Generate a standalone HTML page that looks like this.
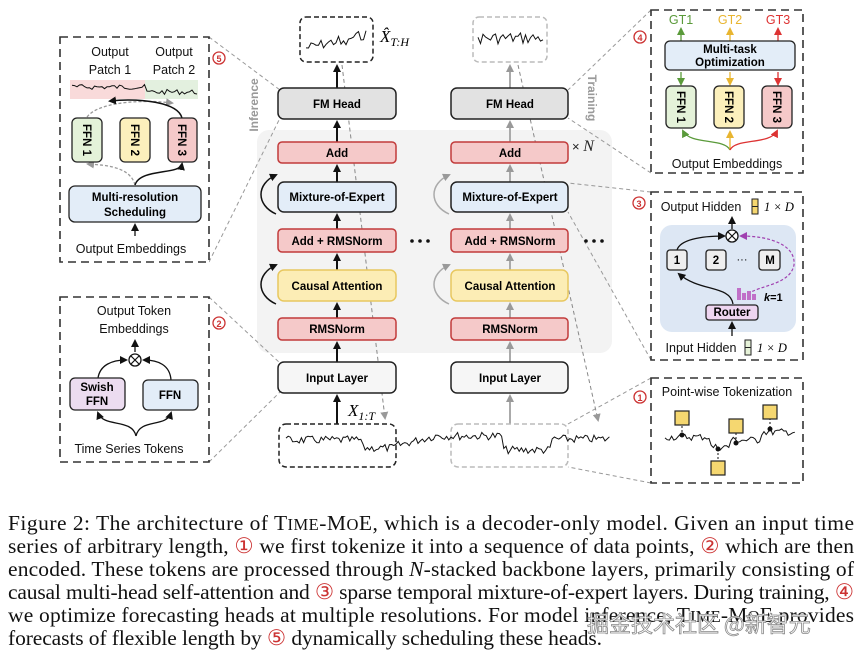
<!DOCTYPE html>
<html><head><meta charset="utf-8"><style>
html,body{margin:0;padding:0;background:#fff;}
svg{display:block;}
.t{font-family:"Liberation Sans","DejaVu Sans",sans-serif;}
.b{font-family:"Liberation Sans","DejaVu Sans",sans-serif;font-weight:bold;font-size:11.5px;text-anchor:middle;}
.n{font-family:"Liberation Sans",sans-serif;font-size:12.5px;text-anchor:middle;fill:#111;}
.m{font-family:"Liberation Serif",serif;font-style:italic;}
</style></head><body>
<svg width="865" height="657" viewBox="0 0 865 657" xmlns="http://www.w3.org/2000/svg">
<defs>
<marker id="ak" markerWidth="8" markerHeight="8" refX="6" refY="4" orient="auto" markerUnits="userSpaceOnUse"><path d="M0,0 L8,4 L0,8 z" fill="#111"/></marker>
<marker id="ag" markerWidth="8" markerHeight="8" refX="6" refY="4" orient="auto" markerUnits="userSpaceOnUse"><path d="M0,0 L8,4 L0,8 z" fill="#999"/></marker>
<marker id="agn" markerWidth="8" markerHeight="8" refX="6" refY="4" orient="auto" markerUnits="userSpaceOnUse"><path d="M0,0 L8,4 L0,8 z" fill="#5a9a3a"/></marker>
<marker id="ay" markerWidth="8" markerHeight="8" refX="6" refY="4" orient="auto" markerUnits="userSpaceOnUse"><path d="M0,0 L8,4 L0,8 z" fill="#e8b530"/></marker>
<marker id="ar" markerWidth="8" markerHeight="8" refX="6" refY="4" orient="auto" markerUnits="userSpaceOnUse"><path d="M0,0 L8,4 L0,8 z" fill="#d33"/></marker>
<marker id="ap" markerWidth="8" markerHeight="8" refX="6" refY="4" orient="auto" markerUnits="userSpaceOnUse"><path d="M0,0 L8,4 L0,8 z" fill="#a040b0"/></marker>
</defs>

<rect x="257" y="130" width="355" height="223" rx="12" fill="#f3f3f3"/>

<g stroke="#999" stroke-width="1" stroke-dasharray="4,3" fill="none">
<line x1="209" y1="37" x2="280" y2="90"/>
<line x1="209" y1="262" x2="280" y2="118"/>
<line x1="209" y1="297" x2="280" y2="363"/>
<line x1="209" y1="462" x2="280" y2="392"/>
<line x1="651" y1="10" x2="568" y2="90"/>
<line x1="651" y1="173" x2="568" y2="118"/>
<line x1="651" y1="192" x2="568" y2="183"/>
<line x1="651" y1="360" x2="568" y2="212"/>
<line x1="651" y1="378" x2="568" y2="424"/>
<line x1="651" y1="483" x2="568" y2="467"/>
<line x1="342" y1="65" x2="385" y2="418" stroke="#888" marker-end="url(#ag)"/>
<line x1="518" y1="65" x2="598" y2="420" stroke="#888" marker-end="url(#ag)"/>
</g>

<!-- Column 1 -->
<rect x="300" y="17" width="73" height="45" rx="6" fill="#fff" stroke="#222" stroke-width="1.5" stroke-dasharray="5,3"/>
<path id="w1" fill="none" stroke="#111" stroke-width="1"/>
<text x="380" y="42" class="m" font-size="17">X̂<tspan font-size="12" dy="4">T:H</tspan></text>
<g stroke="#111" stroke-width="2" marker-end="url(#ak)">
<line x1="337" y1="88" x2="337" y2="66"/>
<line x1="337" y1="142" x2="337" y2="122"/>
<line x1="337" y1="182" x2="337" y2="166"/>
<line x1="337" y1="229" x2="337" y2="215"/>
<line x1="337" y1="270" x2="337" y2="255"/>
<line x1="337" y1="318" x2="337" y2="304"/>
<line x1="337" y1="362" x2="337" y2="343"/>
<line x1="337" y1="424" x2="337" y2="396"/>
</g>
<path d="M276,214 C256,205 256,184 276,175" fill="none" stroke="#111" stroke-width="1.5" marker-end="url(#ak)"/>
<path d="M276,304 C256,295 256,274 276,265" fill="none" stroke="#111" stroke-width="1.5" marker-end="url(#ak)"/>
<rect x="278" y="88" width="118" height="31" rx="6" fill="#e2e2e2" stroke="#222" stroke-width="1.5"/>
<text x="337" y="108" class="b">FM Head</text>
<rect x="278" y="142" width="118" height="21" rx="4" fill="#f5c9c9" stroke="#c23b3b" stroke-width="1.5"/>
<text x="337" y="157" class="b">Add</text>
<rect x="278" y="182" width="118" height="30" rx="6" fill="#e3edf8" stroke="#222" stroke-width="1.5"/>
<text x="337" y="201" class="b">Mixture-of-Expert</text>
<rect x="278" y="229" width="118" height="23" rx="4" fill="#f5c9c9" stroke="#c23b3b" stroke-width="1.5"/>
<text x="337" y="245" class="b">Add + RMSNorm</text>
<rect x="278" y="270" width="118" height="31" rx="6" fill="#fcedb5" stroke="#e8c860" stroke-width="1.5"/>
<text x="337" y="290" class="b">Causal Attention</text>
<rect x="278" y="318" width="118" height="22" rx="4" fill="#f5c9c9" stroke="#c23b3b" stroke-width="1.5"/>
<text x="337" y="333" class="b">RMSNorm</text>
<rect x="278" y="362" width="118" height="31" rx="6" fill="#f6f6f6" stroke="#222" stroke-width="1.5"/>
<text x="337" y="382" class="b">Input Layer</text>
<text x="348" y="416" class="m" font-size="17">X<tspan font-size="12" dy="4">1:T</tspan></text>
<rect x="279" y="424" width="117" height="43" rx="7" fill="none" stroke="#222" stroke-width="1.5" stroke-dasharray="5,3"/>

<text transform="translate(258,105) rotate(-90)" class="t" font-size="12" font-weight="bold" fill="#999" text-anchor="middle">Inference</text>
<text transform="translate(588,98) rotate(90)" class="t" font-size="12" font-weight="bold" fill="#999" text-anchor="middle">Training</text>

<!-- Column 2 -->
<rect x="473" y="17" width="74" height="45" rx="6" fill="#fff" stroke="#bbb" stroke-width="1.5" stroke-dasharray="5,3"/>
<path id="w2" fill="none" stroke="#111" stroke-width="1"/>
<g stroke="#aaa" stroke-width="2" marker-end="url(#ag)">
<line x1="510" y1="88" x2="510" y2="66"/>
<line x1="510" y1="142" x2="510" y2="122"/>
<line x1="510" y1="182" x2="510" y2="166"/>
<line x1="510" y1="229" x2="510" y2="215"/>
<line x1="510" y1="270" x2="510" y2="255"/>
<line x1="510" y1="318" x2="510" y2="304"/>
<line x1="510" y1="362" x2="510" y2="343"/>
<line x1="510" y1="424" x2="510" y2="396"/>
</g>
<path d="M449,214 C429,205 429,184 449,175" fill="none" stroke="#aaa" stroke-width="1.5" marker-end="url(#ag)"/>
<path d="M449,304 C429,295 429,274 449,265" fill="none" stroke="#aaa" stroke-width="1.5" marker-end="url(#ag)"/>
<rect x="451" y="88" width="117" height="31" rx="6" fill="#e2e2e2" stroke="#222" stroke-width="1.5"/>
<text x="510" y="108" class="b">FM Head</text>
<rect x="451" y="142" width="117" height="21" rx="4" fill="#f5c9c9" stroke="#c23b3b" stroke-width="1.5"/>
<text x="510" y="157" class="b">Add</text>
<rect x="451" y="182" width="117" height="30" rx="6" fill="#e3edf8" stroke="#222" stroke-width="1.5"/>
<text x="510" y="201" class="b">Mixture-of-Expert</text>
<rect x="451" y="229" width="117" height="23" rx="4" fill="#f5c9c9" stroke="#c23b3b" stroke-width="1.5"/>
<text x="510" y="245" class="b">Add + RMSNorm</text>
<rect x="451" y="270" width="117" height="31" rx="6" fill="#fcedb5" stroke="#e8c860" stroke-width="1.5"/>
<text x="510" y="290" class="b">Causal Attention</text>
<rect x="451" y="318" width="117" height="22" rx="4" fill="#f5c9c9" stroke="#c23b3b" stroke-width="1.5"/>
<text x="510" y="333" class="b">RMSNorm</text>
<rect x="451" y="362" width="117" height="31" rx="6" fill="#f6f6f6" stroke="#222" stroke-width="1.5"/>
<text x="510" y="382" class="b">Input Layer</text>
<rect x="451" y="424" width="117" height="43" rx="7" fill="none" stroke="#bbb" stroke-width="1.5" stroke-dasharray="5,3"/>
<text x="572" y="151" class="t" font-size="13" fill="#222">× <tspan class="m" font-size="16">N</tspan></text>
<g fill="#111"><circle cx="412" cy="241" r="1.8"/><circle cx="420" cy="241" r="1.8"/><circle cx="428" cy="241" r="1.8"/>
<circle cx="586" cy="241" r="1.8"/><circle cx="594" cy="241" r="1.8"/><circle cx="602" cy="241" r="1.8"/></g>

<path id="wl" fill="none" stroke="#111" stroke-width="1"/>

<!-- Panel 5 -->
<rect x="60" y="37" width="149" height="225" fill="#fff" stroke="#333" stroke-width="1.6" stroke-dasharray="8,5"/>
<circle cx="219" cy="58" r="6" fill="#fff" stroke="#c33" stroke-width="1.3"/><text x="219" y="62" font-size="9" font-weight="bold" fill="#c33" text-anchor="middle" class="t">5</text>
<text x="110" y="56" class="n">Output</text><text x="110" y="74" class="n">Patch 1</text>
<text x="174" y="56" class="n">Output</text><text x="174" y="74" class="n">Patch 2</text>
<rect x="70" y="80" width="75" height="19" fill="#f9dada"/>
<rect x="145" y="80" width="53" height="19" fill="#e3f0df"/>
<path id="w5" fill="none" stroke="#111" stroke-width="1"/>
<path d="M87,117 C100,100 150,100 172,103" fill="none" stroke="#999" stroke-width="1.3" stroke-dasharray="3,2" marker-end="url(#ag)"/>
<path d="M182,118 C178,102 140,98 110,101" fill="none" stroke="#111" stroke-width="1.5" marker-end="url(#ak)"/>
<path d="M135,185 C130,165 100,165 88,164" fill="none" stroke="#999" stroke-width="1.3" stroke-dasharray="3,2" marker-end="url(#ag)"/>
<path d="M135,185 C140,168 180,175 182,164" fill="none" stroke="#111" stroke-width="1.5" marker-end="url(#ak)"/>
<rect x="72" y="118" width="30" height="44" rx="5" fill="#e4f2d9" stroke="#222" stroke-width="1.3"/>
<rect x="120" y="118" width="30" height="44" rx="5" fill="#fcf0bc" stroke="#222" stroke-width="1.3"/>
<rect x="168" y="118" width="29" height="44" rx="5" fill="#f5c9c9" stroke="#222" stroke-width="1.3"/>
<text transform="translate(83,140) rotate(90)" class="b">FFN 1</text>
<text transform="translate(131,140) rotate(90)" class="b">FFN 2</text>
<text transform="translate(178,140) rotate(90)" class="b">FFN 3</text>
<rect x="69" y="186" width="132" height="36" rx="6" fill="#e3edf8" stroke="#222" stroke-width="1.3"/>
<text x="135" y="201" class="b">Multi-resolution</text><text x="135" y="216" class="b">Scheduling</text>
<line x1="135" y1="236" x2="135" y2="225" stroke="#111" stroke-width="1.3" marker-end="url(#ak)"/>
<text x="131" y="253" class="n">Output Embeddings</text>

<!-- Panel 2 -->
<rect x="60" y="297" width="149" height="165" fill="#fff" stroke="#333" stroke-width="1.6" stroke-dasharray="8,5"/>
<circle cx="219" cy="323" r="6" fill="#fff" stroke="#c33" stroke-width="1.3"/><text x="219" y="327" font-size="9" font-weight="bold" fill="#c33" text-anchor="middle" class="t">2</text>
<text x="134" y="315" class="n">Output Token</text><text x="134" y="333" class="n">Embeddings</text>
<line x1="135" y1="352" x2="135" y2="341" stroke="#111" stroke-width="1.3" marker-end="url(#ak)"/>
<circle cx="135" cy="360" r="6" fill="#fff" stroke="#111" stroke-width="1.3"/>
<path d="M131,356 L139,364 M139,356 L131,364" stroke="#111" stroke-width="1.2"/>
<path d="M98,378 C100,365 112,360 126,360" fill="none" stroke="#111" stroke-width="1.3" marker-end="url(#ak)"/>
<path d="M171,380 C170,365 158,360 144,360" fill="none" stroke="#111" stroke-width="1.3" marker-end="url(#ak)"/>
<path d="M136,436 C132,418 104,428 98,413" fill="none" stroke="#111" stroke-width="1.3" marker-end="url(#ak)"/>
<path d="M136,436 C140,418 166,428 171,413" fill="none" stroke="#111" stroke-width="1.3" marker-end="url(#ak)"/>
<rect x="70" y="378" width="55" height="32" rx="5" fill="#ecdcf0" stroke="#222" stroke-width="1.3"/>
<text x="97" y="391" class="b">Swish</text><text x="97" y="405" class="b">FFN</text>
<rect x="143" y="380" width="55" height="30" rx="5" fill="#e3edf8" stroke="#222" stroke-width="1.3"/>
<text x="170" y="399" class="b">FFN</text>
<text x="129" y="453" class="n">Time Series Tokens</text>

<!-- Panel 4 -->
<rect x="651" y="10" width="152" height="163" fill="#fff" stroke="#333" stroke-width="1.6" stroke-dasharray="8,5"/>
<circle cx="640" cy="37" r="6" fill="#fff" stroke="#c33" stroke-width="1.3"/><text x="640" y="41" font-size="9" font-weight="bold" fill="#c33" text-anchor="middle" class="t">4</text>
<text x="681" y="24" class="n" style="fill:#5a9a3a">GT1</text>
<text x="730" y="24" class="n" style="fill:#e8b530">GT2</text>
<text x="778" y="24" class="n" style="fill:#d33">GT3</text>
<line x1="681" y1="41" x2="681" y2="29" stroke="#5a9a3a" stroke-width="1.3" marker-end="url(#agn)"/>
<line x1="730" y1="41" x2="730" y2="29" stroke="#e8b530" stroke-width="1.3" marker-end="url(#ay)"/>
<line x1="778" y1="41" x2="778" y2="29" stroke="#d33" stroke-width="1.3" marker-end="url(#ar)"/>
<rect x="665" y="41" width="130" height="29" rx="5" fill="#e3edf8" stroke="#222" stroke-width="1.3"/>
<text x="730" y="53" class="b">Multi-task</text><text x="730" y="66" class="b">Optimization</text>
<line x1="681" y1="72" x2="681" y2="84" stroke="#5a9a3a" stroke-width="1.3" marker-end="url(#agn)"/>
<line x1="730" y1="72" x2="730" y2="84" stroke="#e8b530" stroke-width="1.3" marker-end="url(#ay)"/>
<line x1="778" y1="72" x2="778" y2="84" stroke="#d33" stroke-width="1.3" marker-end="url(#ar)"/>
<rect x="666" y="86" width="30" height="42" rx="5" fill="#e4f2d9" stroke="#222" stroke-width="1.3"/>
<rect x="714" y="86" width="30" height="42" rx="5" fill="#fcf0bc" stroke="#222" stroke-width="1.3"/>
<rect x="762" y="86" width="30" height="42" rx="5" fill="#f5c9c9" stroke="#222" stroke-width="1.3"/>
<text transform="translate(677,107) rotate(90)" class="b">FFN 1</text>
<text transform="translate(725,107) rotate(90)" class="b">FFN 2</text>
<text transform="translate(773,107) rotate(90)" class="b">FFN 3</text>
<path d="M730,150 C725,138 690,145 683,131" fill="none" stroke="#5a9a3a" stroke-width="1.3" marker-end="url(#agn)"/>
<line x1="730" y1="150" x2="730" y2="132" stroke="#e8b530" stroke-width="1.3" marker-end="url(#ay)"/>
<path d="M730,150 C735,138 770,145 777,131" fill="none" stroke="#d33" stroke-width="1.3" marker-end="url(#ar)"/>
<text x="727" y="168" class="n">Output Embeddings</text>

<!-- Panel 3 -->
<rect x="651" y="192" width="152" height="168" fill="#fff" stroke="#333" stroke-width="1.6" stroke-dasharray="8,5"/>
<circle cx="639" cy="203" r="6" fill="#fff" stroke="#c33" stroke-width="1.3"/><text x="639" y="207" font-size="9" font-weight="bold" fill="#c33" text-anchor="middle" class="t">3</text>
<text x="701" y="211" class="n">Output Hidden</text>
<rect x="752" y="199" width="6" height="15" fill="#f5d770" stroke="#222" stroke-width="1"/><line x1="752" y1="206.5" x2="758" y2="206.5" stroke="#222"/>
<text x="764" y="211" class="m" font-size="12.5">1 × D</text>
<rect x="660" y="225" width="136" height="107" rx="12" fill="#dde7f4"/>
<line x1="732" y1="229" x2="732" y2="218" stroke="#111" stroke-width="1.3" marker-end="url(#ak)"/>
<circle cx="732" cy="236" r="6" fill="#fff" stroke="#111" stroke-width="1.3"/>
<path d="M728,232 L736,240 M736,232 L728,240" stroke="#111" stroke-width="1.2"/>
<path d="M677,250 C680,240 700,236 724,236" fill="none" stroke="#111" stroke-width="1.3" marker-end="url(#ak)"/>
<path d="M748,294 C760,285 790,285 794,265 C796,245 770,236 741,236" fill="none" stroke="#a040b0" stroke-width="1.2" stroke-dasharray="3,2" marker-end="url(#ap)"/>
<rect x="667" y="250" width="20" height="20" rx="3" fill="#eee" stroke="#222" stroke-width="1.3"/>
<rect x="706" y="250" width="20" height="20" rx="3" fill="#eee" stroke="#222" stroke-width="1.3"/>
<rect x="759" y="250" width="21" height="20" rx="3" fill="#eee" stroke="#222" stroke-width="1.3"/>
<text x="677" y="264" class="b">1</text><text x="716" y="264" class="b">2</text><text x="770" y="264" class="b">M</text>
<text x="742" y="263" class="t" font-size="11" text-anchor="middle">···</text>
<path d="M733,304 C730,285 700,292 679,274" fill="none" stroke="#111" stroke-width="1.3" marker-end="url(#ak)"/>
<g fill="#c070c8"><rect x="737" y="288" width="4" height="12"/><rect x="742" y="293" width="4" height="7"/><rect x="747" y="291" width="4" height="9"/><rect x="752" y="294" width="4" height="6"/></g>
<text x="764" y="301" class="t" font-size="11" font-weight="bold"><tspan font-style="italic">k</tspan>=1</text>
<rect x="706" y="305" width="52" height="15" rx="3" fill="#eed5f0" stroke="#222" stroke-width="1.3"/>
<text x="732" y="316" class="b" font-size="10">Router</text>
<line x1="732" y1="336" x2="732" y2="323" stroke="#111" stroke-width="1.3" marker-end="url(#ak)"/>
<text x="701" y="352" class="n">Input Hidden</text>
<rect x="745" y="340" width="6" height="15" fill="#e6f2d8" stroke="#222" stroke-width="1"/><line x1="745" y1="347.5" x2="751" y2="347.5" stroke="#222"/>
<text x="757" y="352" class="m" font-size="12.5">1 × D</text>

<!-- Panel 1 -->
<rect x="651" y="378" width="152" height="105" fill="#fff" stroke="#333" stroke-width="1.6" stroke-dasharray="8,5"/>
<circle cx="640" cy="397" r="6" fill="#fff" stroke="#c33" stroke-width="1.3"/><text x="640" y="401" font-size="9" font-weight="bold" fill="#c33" text-anchor="middle" class="t">1</text>
<text x="727" y="396" class="n">Point-wise Tokenization</text>
<path id="wp" fill="none" stroke="#111" stroke-width="1"/>
<g stroke="#111" stroke-width="1" stroke-dasharray="2,2">
<line x1="682" y1="418" x2="682" y2="435"/><line x1="718" y1="449" x2="718" y2="460"/><line x1="736" y1="425" x2="736" y2="443"/><line x1="770" y1="414" x2="770" y2="429"/>
</g>
<g fill="#111"><circle cx="682" cy="435" r="2.5"/><circle cx="718" cy="449" r="2.5"/><circle cx="736" cy="443" r="2.5"/><circle cx="770" cy="429" r="2.5"/></g>
<g fill="#f5d770" stroke="#222" stroke-width="1.2">
<rect x="675" y="411" width="14" height="14"/><rect x="711" y="461" width="14" height="14"/><rect x="729" y="419" width="14" height="14"/><rect x="763" y="405" width="14" height="14"/>
</g>

<!-- Caption -->
<g font-family="'Liberation Serif','Times New Roman',serif" font-size="21.5" fill="#111">
<text x="8" y="530" textLength="846" lengthAdjust="spacing">Figure 2: The architecture of T<tspan font-size="16.5">IME</tspan>-M<tspan font-size="16.5">O</tspan>E, which is a decoder-only model. Given an input time</text>
<text x="8" y="553" textLength="846" lengthAdjust="spacing">series of arbitrary length, <tspan fill="#c33">①</tspan> we first tokenize it into a sequence of data points, <tspan fill="#c33">②</tspan> which are then</text>
<text x="8" y="576" textLength="846" lengthAdjust="spacing">encoded. These tokens are processed through <tspan font-style="italic">N</tspan>-stacked backbone layers, primarily consisting of</text>
<text x="8" y="599" textLength="846" lengthAdjust="spacing">causal multi-head self-attention and <tspan fill="#c33">③</tspan> sparse temporal mixture-of-expert layers. During training, <tspan fill="#c33">④</tspan></text>
<text x="8" y="622" textLength="846" lengthAdjust="spacing">we optimize forecasting heads at multiple resolutions. For model inference, T<tspan font-size="16.5">IME</tspan>-M<tspan font-size="16.5">O</tspan>E provides</text>
<text x="8" y="645" textLength="594" lengthAdjust="spacing">forecasts of flexible length by <tspan fill="#c33">⑤</tspan> dynamically scheduling these heads.</text>
</g>
<text x="587" y="632" font-family="'Noto Sans CJK SC','WenQuanYi Zen Hei',sans-serif" font-size="22" fill="#fff" stroke="#888" stroke-width="0.8">掘金技术社区 @新智元</text>
</svg>
<script>
(function(){
var s=7;function r(){s=(s*9301+49297)%233280;return s/233280;}
function wave(id,x0,x1,base,amp,step,shape){
 var d='',x=x0;var i=0;
 while(x<=x1){var b=shape?shape(x):base;var y=b+(r()-0.5)*amp;d+=(i?'L':'M')+x.toFixed(1)+','+y.toFixed(1);x+=step;i++;}
 document.getElementById(id).setAttribute('d',d);
}
wave('w1',306,368,40,10,2.5,function(x){return 48-(x-306)/62*14+((x>340&&x<350)?4:0);});
wave('w2',478,543,38,12,2.5,null);
wave('w5',72,198,88,5,2.5,function(x){return x<145?87:92;});
wave('wl',286,610,440,8,2.2,function(x){
 if(x<362)return 440; if(x<395)return 448; if(x<440)return 446-(x-395)*0.25; if(x<502)return 436; if(x<550)return 450; return 439;});
wave('wp',665,795,440,7,2.2,function(x){
 if(x<710)return 437; if(x<730)return 447; if(x<760)return 440; return 432;});
})();
</script>
</body></html>
